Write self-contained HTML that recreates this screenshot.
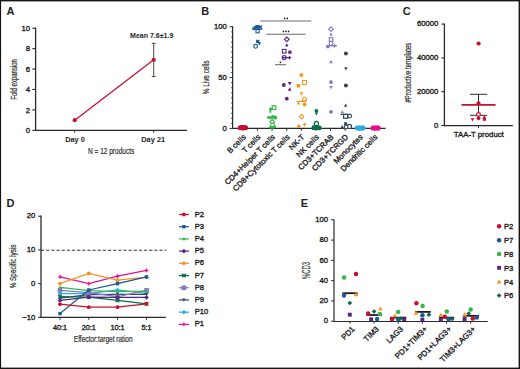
<!DOCTYPE html><html><head><meta charset="utf-8"><style>html,body{margin:0;padding:0;background:#fff;width:520px;height:369px;overflow:hidden}svg{display:block}</style></head><body>
<svg width="520" height="369" viewBox="0 0 520 369" font-family="'Liberation Sans', sans-serif">
<rect width="520" height="369" fill="#fff"/>
<text x="6.6" y="15.2" font-size="11" font-weight="bold" text-anchor="start" fill="#1e1e1e" >A</text>
<line x1="35.6" y1="27.6" x2="35.6" y2="130.8" stroke="#2a2a2a" stroke-width="1.3" />
<line x1="32.3" y1="130.3" x2="35.6" y2="130.3" stroke="#2a2a2a" stroke-width="1.1" />
<text x="30.1" y="133.05" font-size="7.7" font-weight="normal" text-anchor="end" fill="#1e1e1e"  stroke="#1e1e1e" stroke-width="0.35">0</text>
<line x1="32.3" y1="109.88" x2="35.6" y2="109.88" stroke="#2a2a2a" stroke-width="1.1" />
<text x="30.1" y="112.63" font-size="7.7" font-weight="normal" text-anchor="end" fill="#1e1e1e"  stroke="#1e1e1e" stroke-width="0.35">2</text>
<line x1="32.3" y1="89.46" x2="35.6" y2="89.46" stroke="#2a2a2a" stroke-width="1.1" />
<text x="30.1" y="92.21" font-size="7.7" font-weight="normal" text-anchor="end" fill="#1e1e1e"  stroke="#1e1e1e" stroke-width="0.35">4</text>
<line x1="32.3" y1="69.04" x2="35.6" y2="69.04" stroke="#2a2a2a" stroke-width="1.1" />
<text x="30.1" y="71.79" font-size="7.7" font-weight="normal" text-anchor="end" fill="#1e1e1e"  stroke="#1e1e1e" stroke-width="0.35">6</text>
<line x1="32.3" y1="48.62" x2="35.6" y2="48.62" stroke="#2a2a2a" stroke-width="1.1" />
<text x="30.1" y="51.37" font-size="7.7" font-weight="normal" text-anchor="end" fill="#1e1e1e"  stroke="#1e1e1e" stroke-width="0.35">8</text>
<line x1="32.3" y1="28.2" x2="35.6" y2="28.2" stroke="#2a2a2a" stroke-width="1.1" />
<text x="30.1" y="30.95" font-size="7.7" font-weight="normal" text-anchor="end" fill="#1e1e1e"  stroke="#1e1e1e" stroke-width="0.35">10</text>
<line x1="35" y1="130.3" x2="187" y2="130.3" stroke="#2a2a2a" stroke-width="1.2" />
<line x1="74.7" y1="130.2" x2="74.7" y2="132.6" stroke="#2a2a2a" stroke-width="1" />
<line x1="153.7" y1="130.2" x2="153.7" y2="132.6" stroke="#2a2a2a" stroke-width="1" />
<text x="75" y="141.8" font-size="7.4" font-weight="bold" text-anchor="middle" fill="#1e1e1e" >Day 0</text>
<text x="153.2" y="141.8" font-size="7.4" font-weight="bold" text-anchor="middle" fill="#1e1e1e" >Day 21</text>
<text x="88" y="154" font-size="9.5" font-weight="normal" text-anchor="start" fill="#2a2a2a" textLength="46.3" lengthAdjust="spacingAndGlyphs"  stroke="#2a2a2a" stroke-width="0.18">N = 12 products</text>
<text x="16.6" y="79.4" font-size="8.2" font-weight="normal" text-anchor="middle" fill="#2a2a2a" textLength="40.7" lengthAdjust="spacingAndGlyphs" transform="rotate(-90 16.6 79.4)"  stroke="#2a2a2a" stroke-width="0.18">Fold expansion</text>
<line x1="153.7" y1="43.3" x2="153.7" y2="76.6" stroke="#333" stroke-width="0.9" />
<line x1="151.8" y1="43.3" x2="155.6" y2="43.3" stroke="#333" stroke-width="0.9" />
<line x1="151.8" y1="76.6" x2="155.6" y2="76.6" stroke="#333" stroke-width="0.9" />
<line x1="74.7" y1="120.2" x2="153.7" y2="59.8" stroke="#c8102e" stroke-width="1.3" />
<circle cx="74.7" cy="120.2" r="2.1" fill="#c8102e"/>
<circle cx="153.7" cy="59.8" r="2.1" fill="#c8102e"/>
<text x="151.7" y="38.3" font-size="7" font-weight="bold" text-anchor="middle" fill="#1e1e1e" textLength="43.3" lengthAdjust="spacingAndGlyphs" >Mean 7.6±1.9</text>
<text x="201.2" y="15.2" font-size="11" font-weight="bold" text-anchor="start" fill="#1e1e1e" >B</text>
<line x1="232.6" y1="26.2" x2="232.6" y2="128.9" stroke="#2a2a2a" stroke-width="1.25" />
<line x1="229.6" y1="128.4" x2="232.5" y2="128.4" stroke="#2a2a2a" stroke-width="1" />
<line x1="231" y1="123.32" x2="232.5" y2="123.32" stroke="#2a2a2a" stroke-width="0.8" />
<line x1="231" y1="118.24" x2="232.5" y2="118.24" stroke="#2a2a2a" stroke-width="0.8" />
<line x1="231" y1="113.16" x2="232.5" y2="113.16" stroke="#2a2a2a" stroke-width="0.8" />
<line x1="231" y1="108.08" x2="232.5" y2="108.08" stroke="#2a2a2a" stroke-width="0.8" />
<line x1="231" y1="103" x2="232.5" y2="103" stroke="#2a2a2a" stroke-width="0.8" />
<line x1="231" y1="97.92" x2="232.5" y2="97.92" stroke="#2a2a2a" stroke-width="0.8" />
<line x1="231" y1="92.84" x2="232.5" y2="92.84" stroke="#2a2a2a" stroke-width="0.8" />
<line x1="231" y1="87.76" x2="232.5" y2="87.76" stroke="#2a2a2a" stroke-width="0.8" />
<line x1="231" y1="82.68" x2="232.5" y2="82.68" stroke="#2a2a2a" stroke-width="0.8" />
<line x1="229.6" y1="77.6" x2="232.5" y2="77.6" stroke="#2a2a2a" stroke-width="1" />
<line x1="231" y1="72.52" x2="232.5" y2="72.52" stroke="#2a2a2a" stroke-width="0.8" />
<line x1="231" y1="67.44" x2="232.5" y2="67.44" stroke="#2a2a2a" stroke-width="0.8" />
<line x1="231" y1="62.36" x2="232.5" y2="62.36" stroke="#2a2a2a" stroke-width="0.8" />
<line x1="231" y1="57.28" x2="232.5" y2="57.28" stroke="#2a2a2a" stroke-width="0.8" />
<line x1="231" y1="52.2" x2="232.5" y2="52.2" stroke="#2a2a2a" stroke-width="0.8" />
<line x1="231" y1="47.12" x2="232.5" y2="47.12" stroke="#2a2a2a" stroke-width="0.8" />
<line x1="231" y1="42.04" x2="232.5" y2="42.04" stroke="#2a2a2a" stroke-width="0.8" />
<line x1="231" y1="36.96" x2="232.5" y2="36.96" stroke="#2a2a2a" stroke-width="0.8" />
<line x1="231" y1="31.88" x2="232.5" y2="31.88" stroke="#2a2a2a" stroke-width="0.8" />
<line x1="229.6" y1="26.8" x2="232.5" y2="26.8" stroke="#2a2a2a" stroke-width="1" />
<text x="226.8" y="130.6" font-size="7.7" font-weight="normal" text-anchor="end" fill="#1e1e1e"  stroke="#1e1e1e" stroke-width="0.35">0</text>
<text x="226.8" y="79.8" font-size="7.7" font-weight="normal" text-anchor="end" fill="#1e1e1e"  stroke="#1e1e1e" stroke-width="0.35">50</text>
<text x="226.8" y="29" font-size="7.7" font-weight="normal" text-anchor="end" fill="#1e1e1e"  stroke="#1e1e1e" stroke-width="0.35">100</text>
<text x="208.7" y="77.4" font-size="8.6" font-weight="normal" text-anchor="middle" fill="#2a2a2a" textLength="33.6" lengthAdjust="spacingAndGlyphs" transform="rotate(-90 208.7 77.4)"  stroke="#2a2a2a" stroke-width="0.18">% Live cells</text>
<line x1="232" y1="128.4" x2="385.6" y2="128.4" stroke="#2a2a2a" stroke-width="1.2" />
<line x1="242.8" y1="128.4" x2="242.8" y2="130.8" stroke="#2a2a2a" stroke-width="1" />
<text x="246.4" y="137.6" font-size="7.8" font-weight="normal" text-anchor="end" fill="#1e1e1e" transform="rotate(-45 246.4 137.6)"  stroke="#1e1e1e" stroke-width="0.35">B cells</text>
<line x1="257.42" y1="128.4" x2="257.42" y2="130.8" stroke="#2a2a2a" stroke-width="1" />
<text x="261.02" y="137.6" font-size="7.8" font-weight="normal" text-anchor="end" fill="#1e1e1e" transform="rotate(-45 261.02 137.6)"  stroke="#1e1e1e" stroke-width="0.35">T cells</text>
<line x1="272.04" y1="128.4" x2="272.04" y2="130.8" stroke="#2a2a2a" stroke-width="1" />
<text x="275.64" y="137.6" font-size="7.8" font-weight="normal" text-anchor="end" fill="#1e1e1e" transform="rotate(-45 275.64 137.6)"  stroke="#1e1e1e" stroke-width="0.35">CD4+Helper T cells</text>
<line x1="286.66" y1="128.4" x2="286.66" y2="130.8" stroke="#2a2a2a" stroke-width="1" />
<text x="290.26" y="137.6" font-size="7.8" font-weight="normal" text-anchor="end" fill="#1e1e1e" transform="rotate(-45 290.26 137.6)"  stroke="#1e1e1e" stroke-width="0.35">CD8+Cytotoxic T cells</text>
<line x1="301.28" y1="128.4" x2="301.28" y2="130.8" stroke="#2a2a2a" stroke-width="1" />
<text x="304.88" y="137.6" font-size="7.8" font-weight="normal" text-anchor="end" fill="#1e1e1e" transform="rotate(-45 304.88 137.6)"  stroke="#1e1e1e" stroke-width="0.35">NK-T</text>
<line x1="315.9" y1="128.4" x2="315.9" y2="130.8" stroke="#2a2a2a" stroke-width="1" />
<text x="319.5" y="137.6" font-size="7.8" font-weight="normal" text-anchor="end" fill="#1e1e1e" transform="rotate(-45 319.5 137.6)"  stroke="#1e1e1e" stroke-width="0.35">NK cells</text>
<line x1="330.52" y1="128.4" x2="330.52" y2="130.8" stroke="#2a2a2a" stroke-width="1" />
<text x="334.12" y="137.6" font-size="7.8" font-weight="normal" text-anchor="end" fill="#1e1e1e" transform="rotate(-45 334.12 137.6)"  stroke="#1e1e1e" stroke-width="0.35">CD3+TCRAB</text>
<line x1="345.14" y1="128.4" x2="345.14" y2="130.8" stroke="#2a2a2a" stroke-width="1" />
<text x="348.74" y="137.6" font-size="7.8" font-weight="normal" text-anchor="end" fill="#1e1e1e" transform="rotate(-45 348.74 137.6)"  stroke="#1e1e1e" stroke-width="0.35">CD3+TCRGD</text>
<line x1="359.76" y1="128.4" x2="359.76" y2="130.8" stroke="#2a2a2a" stroke-width="1" />
<text x="363.36" y="137.6" font-size="7.8" font-weight="normal" text-anchor="end" fill="#1e1e1e" transform="rotate(-45 363.36 137.6)"  stroke="#1e1e1e" stroke-width="0.35">Monocytes</text>
<line x1="374.38" y1="128.4" x2="374.38" y2="130.8" stroke="#2a2a2a" stroke-width="1" />
<text x="377.98" y="137.6" font-size="7.8" font-weight="normal" text-anchor="end" fill="#1e1e1e" transform="rotate(-45 377.98 137.6)"  stroke="#1e1e1e" stroke-width="0.35">Dendritic cells</text>
<line x1="260.4" y1="21" x2="311.3" y2="21" stroke="#6d6d6d" stroke-width="1.1" />
<line x1="266.4" y1="34.2" x2="305.5" y2="34.2" stroke="#6d6d6d" stroke-width="1.1" />
<line x1="275" y1="64.7" x2="286" y2="64.7" stroke="#6d6d6d" stroke-width="1.1" />
<circle cx="284.7" cy="18.4" r="0.85" fill="#222"/>
<circle cx="287.3" cy="18.4" r="0.85" fill="#222"/>
<circle cx="283.4" cy="31.4" r="0.85" fill="#222"/>
<circle cx="286" cy="31.4" r="0.85" fill="#222"/>
<circle cx="288.6" cy="31.4" r="0.85" fill="#222"/>
<circle cx="280.4" cy="62.3" r="0.85" fill="#222"/>
<circle cx="240.3" cy="127.8" r="2.5" fill="#c8102e"/>
<circle cx="241.8" cy="127.8" r="2.5" fill="#c8102e"/>
<circle cx="243.3" cy="127.8" r="2.5" fill="#c8102e"/>
<circle cx="244.8" cy="127.8" r="2.5" fill="#c8102e"/>
<circle cx="245.6" cy="127.8" r="2.5" fill="#c8102e"/>
<rect x="239.8" y="125" width="4.4" height="4.4" fill="#c8102e"/>
<rect x="255.6" y="25.1" width="3.4" height="3.4" fill="#1a5a96"/>
<line x1="252.2" y1="28.2" x2="256.2" y2="28.2" stroke="#1a5a96" stroke-width="1.3" />
<line x1="254.2" y1="26.2" x2="254.2" y2="30.2" stroke="#1a5a96" stroke-width="1.3" />
<line x1="258.7" y1="25.5" x2="262.1" y2="28.9" stroke="#1a5a96" stroke-width="1.3" />
<line x1="258.7" y1="28.9" x2="262.1" y2="25.5" stroke="#1a5a96" stroke-width="1.3" />
<polygon points="258.2,25.2 260,28.44 256.4,28.44" fill="#1a5a96"/>
<circle cx="256" cy="27" r="1.6" fill="#1a5a96"/>
<polygon points="259,25 260.6,26.6 259,28.2 257.4,26.6" fill="#1a5a96"/>
<line x1="252.2" y1="29.2" x2="262" y2="29.2" stroke="#1a5a96" stroke-width="1.4" />
<rect x="256" y="29.6" width="3.2" height="3.2" fill="#fff" stroke="#1a5a96" stroke-width="1.1"/>
<rect x="256.1" y="39.8" width="3.2" height="3.2" fill="#1a5a96"/>
<polygon points="259.3,45.6 261.1,42.36 257.5,42.36" fill="#1a5a96"/>
<circle cx="255.6" cy="46.3" r="1.9" fill="#fff" stroke="#1a5a96" stroke-width="1.1"/>
<rect x="272.2" y="105.8" width="3.6" height="3.6" fill="#fff" stroke="#39b54a" stroke-width="1.2"/>
<circle cx="270.6" cy="109.2" r="1.6" fill="#39b54a"/>
<polygon points="270.4,109.9 271.9,112.6 268.9,112.6" fill="#39b54a"/>
<line x1="267.3" y1="117.6" x2="277" y2="117.6" stroke="#39b54a" stroke-width="1.6" />
<rect x="273.2" y="115.8" width="3.6" height="3.6" fill="#39b54a"/>
<polygon points="270.6,119.8 272.5,116.38 268.7,116.38" fill="#39b54a"/>
<circle cx="272.6" cy="116.9" r="1.8" fill="#39b54a"/>
<rect x="267.4" y="116.2" width="2.4" height="2.4" fill="#39b54a"/>
<polygon points="272.2,119.6 274.4,121.8 272.2,124 270,121.8" fill="#fff" stroke="#39b54a" stroke-width="1.2"/>
<circle cx="272.6" cy="125.2" r="1.9" fill="#fff" stroke="#39b54a" stroke-width="1.1"/>
<polygon points="270.2,125.1 271.9,128.16 268.5,128.16" fill="#39b54a"/>
<circle cx="274.6" cy="126.8" r="1.6" fill="#39b54a"/>
<rect x="270.7" y="126.1" width="2.6" height="2.6" fill="#39b54a"/>
<polygon points="286.8,37 289.1,39.3 286.8,41.6 284.5,39.3" fill="#fff" stroke="#56267f" stroke-width="1.1"/>
<polygon points="286.8,43.8 288.4,45.4 286.8,47 285.2,45.4" fill="#56267f"/>
<rect x="282.4" y="49.4" width="3.6" height="3.6" fill="#fff" stroke="#56267f" stroke-width="1.1"/>
<rect x="288.3" y="50.6" width="3.2" height="3.2" fill="#56267f"/>
<circle cx="284.2" cy="57.6" r="2" fill="#fff" stroke="#56267f" stroke-width="1.1"/>
<line x1="282" y1="57.6" x2="291" y2="57.6" stroke="#56267f" stroke-width="1.2" />
<line x1="287.8" y1="57.6" x2="291.2" y2="57.6" stroke="#56267f" stroke-width="1.2" />
<line x1="289.5" y1="55.9" x2="289.5" y2="59.3" stroke="#56267f" stroke-width="1.2" />
<circle cx="283.8" cy="85" r="1.9" fill="#56267f"/>
<polygon points="289.7,85.5 291.6,82.08 287.8,82.08" fill="#56267f"/>
<polygon points="289.7,87.3 291.6,90.72 287.8,90.72" fill="#56267f"/>
<circle cx="286.8" cy="98.7" r="1.9" fill="#56267f"/>
<rect x="299.7" y="73.4" width="3.4" height="3.4" fill="#f7941d"/>
<rect x="302.5" y="80.5" width="4" height="4" fill="#fff" stroke="#f7941d" stroke-width="1.1"/>
<circle cx="298.4" cy="85.7" r="2" fill="#f7941d"/>
<polygon points="301.4,95.6 303.2,92.36 299.6,92.36" fill="#f7941d"/>
<circle cx="304.5" cy="99.3" r="2" fill="#fff" stroke="#f7941d" stroke-width="1.1"/>
<line x1="296.6" y1="101.4" x2="306.3" y2="101.4" stroke="#f7941d" stroke-width="1.2" />
<polygon points="298.4,101.2 300.2,104.44 296.6,104.44" fill="#f7941d"/>
<circle cx="304.5" cy="104.5" r="1.9" fill="#f7941d"/>
<polygon points="301.5,114.5 303.7,116.7 301.5,118.9 299.3,116.7" fill="#fff" stroke="#f7941d" stroke-width="1.1"/>
<circle cx="298.8" cy="126.2" r="1.8" fill="#f7941d"/>
<line x1="302.7" y1="124.5" x2="306.3" y2="124.5" stroke="#f7941d" stroke-width="1.1" />
<line x1="304.5" y1="122.7" x2="304.5" y2="126.3" stroke="#f7941d" stroke-width="1.1" />
<circle cx="316.4" cy="110.8" r="1.9" fill="#0c6b4c"/>
<polygon points="316.4,115.5 318.1,112.44 314.7,112.44" fill="#0c6b4c"/>
<circle cx="316.4" cy="123.5" r="2.1" fill="#fff" stroke="#0c6b4c" stroke-width="1.2"/>
<circle cx="313.8" cy="127.9" r="2.4" fill="#0c6b4c"/>
<circle cx="315.4" cy="127.9" r="2.4" fill="#0c6b4c"/>
<circle cx="317" cy="127.9" r="2.4" fill="#0c6b4c"/>
<circle cx="318.6" cy="127.9" r="2.4" fill="#0c6b4c"/>
<circle cx="319.3" cy="127.9" r="2.4" fill="#0c6b4c"/>
<rect x="312.1" y="125.5" width="4.2" height="4.2" fill="#0c6b4c"/>
<polygon points="331,26.9 333.3,29.2 331,31.5 328.7,29.2" fill="#fff" stroke="#8376c6" stroke-width="1.1"/>
<polygon points="331,33 332.6,34.6 331,36.2 329.4,34.6" fill="#8376c6"/>
<rect x="329.2" y="37.7" width="3.6" height="3.6" fill="#fff" stroke="#8376c6" stroke-width="1.1"/>
<circle cx="331" cy="43.4" r="1.9" fill="#fff" stroke="#8376c6" stroke-width="1.1"/>
<rect x="326.2" y="45" width="3.2" height="3.2" fill="#8376c6"/>
<line x1="332.8" y1="45.8" x2="336.2" y2="45.8" stroke="#8376c6" stroke-width="1.2" />
<line x1="334.5" y1="44.1" x2="334.5" y2="47.5" stroke="#8376c6" stroke-width="1.2" />
<line x1="326" y1="45.8" x2="337" y2="45.8" stroke="#8376c6" stroke-width="1.2" />
<polygon points="331,59.9 332.8,63.14 329.2,63.14" fill="#8376c6"/>
<circle cx="331" cy="82.1" r="1.9" fill="#8376c6"/>
<polygon points="331,89.3 332.8,86.06 329.2,86.06" fill="#8376c6"/>
<circle cx="331" cy="111.8" r="1.9" fill="#8376c6"/>
<circle cx="345.9" cy="53.6" r="2" fill="#34475c"/>
<polygon points="345.9,70.4 347.7,67.16 344.1,67.16" fill="#34475c"/>
<circle cx="345.9" cy="85.6" r="2" fill="#34475c"/>
<polygon points="345.6,103.6 347.3,106.66 343.9,106.66" fill="#34475c"/>
<polygon points="342.3,110 344.3,113.6 340.3,113.6" fill="#8a96a6"/>
<line x1="340.5" y1="114.4" x2="351" y2="114.4" stroke="#34475c" stroke-width="1.1" />
<rect x="343.6" y="114.3" width="4" height="4" fill="#fff" stroke="#34475c" stroke-width="1.2"/>
<circle cx="349.7" cy="116.1" r="1.9" fill="#fff" stroke="#34475c" stroke-width="1.1"/>
<rect x="344.1" y="122.2" width="3" height="3" fill="#34475c"/>
<circle cx="349.4" cy="126.4" r="2.1" fill="#fff" stroke="#34475c" stroke-width="1.2"/>
<polygon points="342.3,125 344.1,128.24 340.5,128.24" fill="#34475c"/>
<circle cx="346.2" cy="126.9" r="1.8" fill="#fff" stroke="#34475c" stroke-width="1.1"/>
<circle cx="357.3" cy="127.9" r="2.5" fill="#29abe2"/>
<circle cx="358.8" cy="127.9" r="2.5" fill="#29abe2"/>
<circle cx="360.3" cy="127.9" r="2.5" fill="#29abe2"/>
<circle cx="361.8" cy="127.9" r="2.5" fill="#29abe2"/>
<circle cx="362.8" cy="127.9" r="2.5" fill="#29abe2"/>
<polygon points="363,125.2 366,127.9 363,130.6" fill="#29abe2"/>
<circle cx="373" cy="128" r="2.5" fill="#ec0c8c"/>
<circle cx="374.5" cy="128" r="2.5" fill="#ec0c8c"/>
<circle cx="376" cy="128" r="2.5" fill="#ec0c8c"/>
<circle cx="377.5" cy="128" r="2.5" fill="#ec0c8c"/>
<circle cx="378.1" cy="128" r="2.5" fill="#ec0c8c"/>
<polygon points="378.2,125.4 380.8,128 378.2,130.6" fill="#ec0c8c"/>
<text x="402.8" y="15.2" font-size="11" font-weight="bold" text-anchor="start" fill="#1e1e1e" >C</text>
<line x1="444.4" y1="23.5" x2="444.4" y2="126.1" stroke="#2a2a2a" stroke-width="1.3" />
<line x1="441.4" y1="125.5" x2="444.4" y2="125.5" stroke="#2a2a2a" stroke-width="1.1" />
<text x="438.3" y="127.7" font-size="7.7" font-weight="normal" text-anchor="end" fill="#1e1e1e"  stroke="#1e1e1e" stroke-width="0.35">0</text>
<line x1="441.4" y1="91.7" x2="444.4" y2="91.7" stroke="#2a2a2a" stroke-width="1.1" />
<text x="438.3" y="93.9" font-size="7.7" font-weight="normal" text-anchor="end" fill="#1e1e1e"  stroke="#1e1e1e" stroke-width="0.35">20000</text>
<line x1="441.4" y1="57.9" x2="444.4" y2="57.9" stroke="#2a2a2a" stroke-width="1.1" />
<text x="438.3" y="60.1" font-size="7.7" font-weight="normal" text-anchor="end" fill="#1e1e1e"  stroke="#1e1e1e" stroke-width="0.35">40000</text>
<line x1="441.4" y1="24.1" x2="444.4" y2="24.1" stroke="#2a2a2a" stroke-width="1.1" />
<text x="438.3" y="26.3" font-size="7.7" font-weight="normal" text-anchor="end" fill="#1e1e1e"  stroke="#1e1e1e" stroke-width="0.35">60000</text>
<text x="411.1" y="72.6" font-size="8.2" font-weight="normal" text-anchor="middle" fill="#2a2a2a" textLength="59.8" lengthAdjust="spacingAndGlyphs" transform="rotate(-90 411.1 72.6)"  stroke="#2a2a2a" stroke-width="0.18">#Productive templates</text>
<line x1="443.8" y1="125.5" x2="512.8" y2="125.5" stroke="#2a2a2a" stroke-width="1.25" />
<line x1="478.5" y1="125.5" x2="478.5" y2="127.9" stroke="#2a2a2a" stroke-width="1" />
<text x="478.8" y="137.4" font-size="7.8" font-weight="normal" text-anchor="middle" fill="#1e1e1e" textLength="50" lengthAdjust="spacingAndGlyphs"  stroke="#1e1e1e" stroke-width="0.35">TAA-T product</text>
<line x1="478.5" y1="94.3" x2="478.5" y2="115.3" stroke="#2a2a2a" stroke-width="1" />
<line x1="470" y1="94.3" x2="487.2" y2="94.3" stroke="#2a2a2a" stroke-width="1" />
<line x1="470" y1="115.3" x2="487.2" y2="115.3" stroke="#2a2a2a" stroke-width="1" />
<line x1="461.5" y1="104.9" x2="495.6" y2="104.9" stroke="#c8102e" stroke-width="1.6" />
<circle cx="478.6" cy="43.5" r="2.1" fill="#c8102e"/>
<circle cx="478.5" cy="103.3" r="2" fill="#c8102e"/>
<circle cx="478.5" cy="114.5" r="1.9" fill="#fff" stroke="#c8102e" stroke-width="1.1"/>
<circle cx="478.5" cy="118.2" r="1.9" fill="#c8102e"/>
<polygon points="472.5,121.4 474.3,118.16 470.7,118.16" fill="#c8102e"/>
<polygon points="484.4,115.2 486.2,118.44 482.6,118.44" fill="#c8102e"/>
<rect x="482.8" y="117.6" width="3.2" height="3.2" fill="#c8102e"/>
<text x="6.6" y="206.5" font-size="11" font-weight="bold" text-anchor="start" fill="#1e1e1e" >D</text>
<line x1="41" y1="215.6" x2="41" y2="317.9" stroke="#2a2a2a" stroke-width="1.3" />
<line x1="38.2" y1="317.3" x2="41" y2="317.3" stroke="#2a2a2a" stroke-width="1.1" />
<text x="35.4" y="319.5" font-size="7.7" font-weight="normal" text-anchor="end" fill="#1e1e1e"  stroke="#1e1e1e" stroke-width="0.35">−10</text>
<line x1="38.2" y1="283.6" x2="41" y2="283.6" stroke="#2a2a2a" stroke-width="1.1" />
<text x="35.4" y="285.8" font-size="7.7" font-weight="normal" text-anchor="end" fill="#1e1e1e"  stroke="#1e1e1e" stroke-width="0.35">0</text>
<line x1="38.2" y1="249.9" x2="41" y2="249.9" stroke="#2a2a2a" stroke-width="1.1" />
<text x="35.4" y="252.1" font-size="7.7" font-weight="normal" text-anchor="end" fill="#1e1e1e"  stroke="#1e1e1e" stroke-width="0.35">10</text>
<line x1="38.2" y1="216.2" x2="41" y2="216.2" stroke="#2a2a2a" stroke-width="1.1" />
<text x="35.4" y="218.4" font-size="7.7" font-weight="normal" text-anchor="end" fill="#1e1e1e"  stroke="#1e1e1e" stroke-width="0.35">20</text>
<text x="16.3" y="266.4" font-size="8.2" font-weight="normal" text-anchor="middle" fill="#2a2a2a" textLength="43.9" lengthAdjust="spacingAndGlyphs" transform="rotate(-90 16.3 266.4)"  stroke="#2a2a2a" stroke-width="0.18">% Specific lysis</text>
<line x1="40.4" y1="317.4" x2="165.8" y2="317.4" stroke="#2a2a2a" stroke-width="1.25" />
<line x1="60" y1="317.4" x2="60" y2="319.8" stroke="#2a2a2a" stroke-width="1" />
<text x="60" y="329.6" font-size="7.3" font-weight="normal" text-anchor="middle" fill="#1e1e1e"  stroke="#1e1e1e" stroke-width="0.35">40:1</text>
<line x1="88.8" y1="317.4" x2="88.8" y2="319.8" stroke="#2a2a2a" stroke-width="1" />
<text x="88.8" y="329.6" font-size="7.3" font-weight="normal" text-anchor="middle" fill="#1e1e1e"  stroke="#1e1e1e" stroke-width="0.35">20:1</text>
<line x1="117.5" y1="317.4" x2="117.5" y2="319.8" stroke="#2a2a2a" stroke-width="1" />
<text x="117.5" y="329.6" font-size="7.3" font-weight="normal" text-anchor="middle" fill="#1e1e1e"  stroke="#1e1e1e" stroke-width="0.35">10:1</text>
<line x1="146.5" y1="317.4" x2="146.5" y2="319.8" stroke="#2a2a2a" stroke-width="1" />
<text x="146.5" y="329.6" font-size="7.3" font-weight="normal" text-anchor="middle" fill="#1e1e1e"  stroke="#1e1e1e" stroke-width="0.35">5:1</text>
<text x="73.8" y="341.9" font-size="8.4" font-weight="normal" text-anchor="start" fill="#2a2a2a" textLength="58.8" lengthAdjust="spacingAndGlyphs"  stroke="#2a2a2a" stroke-width="0.18">Effector:target ration</text>
<line x1="41" y1="250.3" x2="166.2" y2="250.3" stroke="#333" stroke-width="1.1" stroke-dasharray="3.2 1.95"/>
<polyline points="60,276.86 88.8,283.6 117.5,276.19 146.5,270.46" fill="none" stroke="#ec0c8c" stroke-width="1.25"/>
<line x1="58.2" y1="276.86" x2="61.8" y2="276.86" stroke="#ec0c8c" stroke-width="1.3" />
<line x1="60" y1="275.06" x2="60" y2="278.66" stroke="#ec0c8c" stroke-width="1.3" />
<line x1="87" y1="283.6" x2="90.6" y2="283.6" stroke="#ec0c8c" stroke-width="1.3" />
<line x1="88.8" y1="281.8" x2="88.8" y2="285.4" stroke="#ec0c8c" stroke-width="1.3" />
<line x1="115.7" y1="276.19" x2="119.3" y2="276.19" stroke="#ec0c8c" stroke-width="1.3" />
<line x1="117.5" y1="274.39" x2="117.5" y2="277.99" stroke="#ec0c8c" stroke-width="1.3" />
<line x1="144.7" y1="270.46" x2="148.3" y2="270.46" stroke="#ec0c8c" stroke-width="1.3" />
<line x1="146.5" y1="268.66" x2="146.5" y2="272.26" stroke="#ec0c8c" stroke-width="1.3" />
<polyline points="60,293.71 88.8,293.71 117.5,290 146.5,293.37" fill="none" stroke="#29abe2" stroke-width="1.25"/>
<polygon points="60,291.41 62.3,293.71 60,296.01 57.7,293.71" fill="#29abe2"/>
<polygon points="88.8,291.41 91.1,293.71 88.8,296.01 86.5,293.71" fill="#29abe2"/>
<polygon points="117.5,287.7 119.8,290 117.5,292.3 115.2,290" fill="#29abe2"/>
<polygon points="146.5,291.07 148.8,293.37 146.5,295.67 144.2,293.37" fill="#29abe2"/>
<polyline points="60,298.09 88.8,294.72 117.5,294.38 146.5,294.38" fill="none" stroke="#34475c" stroke-width="1.25"/>
<polygon points="60,299.79 61.7,296.73 58.3,296.73" fill="#34475c"/>
<polygon points="88.8,296.42 90.5,293.36 87.1,293.36" fill="#34475c"/>
<polygon points="117.5,296.08 119.2,293.02 115.8,293.02" fill="#34475c"/>
<polygon points="146.5,296.08 148.2,293.02 144.8,293.02" fill="#34475c"/>
<polyline points="60,290.34 88.8,292.7 117.5,296.74 146.5,290.34" fill="none" stroke="#8376c6" stroke-width="1.25"/>
<rect x="57.7" y="288.04" width="4.6" height="4.6" fill="#8376c6"/>
<rect x="86.5" y="290.4" width="4.6" height="4.6" fill="#8376c6"/>
<rect x="115.2" y="294.44" width="4.6" height="4.6" fill="#8376c6"/>
<rect x="144.2" y="288.04" width="4.6" height="4.6" fill="#8376c6"/>
<polyline points="60,296.74 88.8,297.08 117.5,300.45 146.5,303.82" fill="none" stroke="#0c6b4c" stroke-width="1.25"/>
<line x1="58.2" y1="294.94" x2="61.8" y2="298.54" stroke="#0c6b4c" stroke-width="1.4" />
<line x1="58.2" y1="298.54" x2="61.8" y2="294.94" stroke="#0c6b4c" stroke-width="1.4" />
<line x1="87" y1="295.28" x2="90.6" y2="298.88" stroke="#0c6b4c" stroke-width="1.4" />
<line x1="87" y1="298.88" x2="90.6" y2="295.28" stroke="#0c6b4c" stroke-width="1.4" />
<line x1="115.7" y1="298.65" x2="119.3" y2="302.25" stroke="#0c6b4c" stroke-width="1.4" />
<line x1="115.7" y1="302.25" x2="119.3" y2="298.65" stroke="#0c6b4c" stroke-width="1.4" />
<line x1="144.7" y1="302.02" x2="148.3" y2="305.62" stroke="#0c6b4c" stroke-width="1.4" />
<line x1="144.7" y1="305.62" x2="148.3" y2="302.02" stroke="#0c6b4c" stroke-width="1.4" />
<polyline points="60,283.6 88.8,273.49 117.5,280.23 146.5,277.2" fill="none" stroke="#f7941d" stroke-width="1.25"/>
<circle cx="60" cy="283.6" r="1.9" fill="#f7941d"/>
<circle cx="88.8" cy="273.49" r="1.9" fill="#f7941d"/>
<circle cx="117.5" cy="280.23" r="1.9" fill="#f7941d"/>
<circle cx="146.5" cy="277.2" r="1.9" fill="#f7941d"/>
<polyline points="60,300.45 88.8,297.08 117.5,297.42 146.5,297.42" fill="none" stroke="#56267f" stroke-width="1.25"/>
<polygon points="60,298.15 62.3,300.45 60,302.75 57.7,300.45" fill="#56267f"/>
<polygon points="88.8,294.78 91.1,297.08 88.8,299.38 86.5,297.08" fill="#56267f"/>
<polygon points="117.5,295.12 119.8,297.42 117.5,299.72 115.2,297.42" fill="#56267f"/>
<polygon points="146.5,295.12 148.8,297.42 146.5,299.72 144.2,297.42" fill="#56267f"/>
<polyline points="60,287.31 88.8,290.68 117.5,291.69 146.5,291.01" fill="none" stroke="#39b54a" stroke-width="1.25"/>
<polygon points="60,285.51 61.8,288.75 58.2,288.75" fill="#39b54a"/>
<polygon points="88.8,288.88 90.6,292.12 87,292.12" fill="#39b54a"/>
<polygon points="117.5,289.89 119.3,293.13 115.7,293.13" fill="#39b54a"/>
<polygon points="146.5,289.21 148.3,292.45 144.7,292.45" fill="#39b54a"/>
<polyline points="60,313.59 88.8,290 117.5,283.6 146.5,276.86" fill="none" stroke="#1a5a96" stroke-width="1.25"/>
<rect x="58.3" y="311.89" width="3.4" height="3.4" fill="#1a5a96"/>
<rect x="87.1" y="288.3" width="3.4" height="3.4" fill="#1a5a96"/>
<rect x="115.8" y="281.9" width="3.4" height="3.4" fill="#1a5a96"/>
<rect x="144.8" y="275.16" width="3.4" height="3.4" fill="#1a5a96"/>
<polyline points="60,304.16 88.8,307.19 117.5,307.19 146.5,303.82" fill="none" stroke="#c8102e" stroke-width="1.25"/>
<circle cx="60" cy="304.16" r="1.9" fill="#c8102e"/>
<circle cx="88.8" cy="307.19" r="1.9" fill="#c8102e"/>
<circle cx="117.5" cy="307.19" r="1.9" fill="#c8102e"/>
<circle cx="146.5" cy="303.82" r="1.9" fill="#c8102e"/>
<line x1="178.9" y1="214.5" x2="189" y2="214.5" stroke="#c8102e" stroke-width="1.2" />
<circle cx="183.9" cy="214.5" r="1.9" fill="#c8102e"/>
<text x="194.8" y="216.6" font-size="7.6" font-weight="normal" text-anchor="start" fill="#1e1e1e"  stroke="#1e1e1e" stroke-width="0.35">P2</text>
<line x1="178.9" y1="226.71" x2="189" y2="226.71" stroke="#1a5a96" stroke-width="1.2" />
<rect x="182.2" y="225.01" width="3.4" height="3.4" fill="#1a5a96"/>
<text x="194.8" y="228.81" font-size="7.6" font-weight="normal" text-anchor="start" fill="#1e1e1e"  stroke="#1e1e1e" stroke-width="0.35">P3</text>
<line x1="178.9" y1="238.92" x2="189" y2="238.92" stroke="#39b54a" stroke-width="1.2" />
<polygon points="183.9,237.12 185.7,240.36 182.1,240.36" fill="#39b54a"/>
<text x="194.8" y="241.02" font-size="7.6" font-weight="normal" text-anchor="start" fill="#1e1e1e"  stroke="#1e1e1e" stroke-width="0.35">P4</text>
<line x1="178.9" y1="251.13" x2="189" y2="251.13" stroke="#56267f" stroke-width="1.2" />
<polygon points="183.9,248.83 186.2,251.13 183.9,253.43 181.6,251.13" fill="#56267f"/>
<text x="194.8" y="253.23" font-size="7.6" font-weight="normal" text-anchor="start" fill="#1e1e1e"  stroke="#1e1e1e" stroke-width="0.35">P5</text>
<line x1="178.9" y1="263.34" x2="189" y2="263.34" stroke="#f7941d" stroke-width="1.2" />
<circle cx="183.9" cy="263.34" r="1.9" fill="#f7941d"/>
<text x="194.8" y="265.44" font-size="7.6" font-weight="normal" text-anchor="start" fill="#1e1e1e"  stroke="#1e1e1e" stroke-width="0.35">P6</text>
<line x1="178.9" y1="275.55" x2="189" y2="275.55" stroke="#0c6b4c" stroke-width="1.2" />
<line x1="182.1" y1="273.75" x2="185.7" y2="277.35" stroke="#0c6b4c" stroke-width="1.4" />
<line x1="182.1" y1="277.35" x2="185.7" y2="273.75" stroke="#0c6b4c" stroke-width="1.4" />
<text x="194.8" y="277.65" font-size="7.6" font-weight="normal" text-anchor="start" fill="#1e1e1e"  stroke="#1e1e1e" stroke-width="0.35">P7</text>
<line x1="178.9" y1="287.76" x2="189" y2="287.76" stroke="#8376c6" stroke-width="1.2" />
<rect x="181.6" y="285.46" width="4.6" height="4.6" fill="#8376c6"/>
<text x="194.8" y="289.86" font-size="7.6" font-weight="normal" text-anchor="start" fill="#1e1e1e"  stroke="#1e1e1e" stroke-width="0.35">P8</text>
<line x1="178.9" y1="299.97" x2="189" y2="299.97" stroke="#34475c" stroke-width="1.2" />
<polygon points="183.9,301.67 185.6,298.61 182.2,298.61" fill="#34475c"/>
<text x="194.8" y="302.07" font-size="7.6" font-weight="normal" text-anchor="start" fill="#1e1e1e"  stroke="#1e1e1e" stroke-width="0.35">P9</text>
<line x1="178.9" y1="312.18" x2="189" y2="312.18" stroke="#29abe2" stroke-width="1.2" />
<polygon points="183.9,309.88 186.2,312.18 183.9,314.48 181.6,312.18" fill="#29abe2"/>
<text x="194.8" y="314.28" font-size="7.6" font-weight="normal" text-anchor="start" fill="#1e1e1e"  stroke="#1e1e1e" stroke-width="0.35">P10</text>
<line x1="178.9" y1="324.39" x2="189" y2="324.39" stroke="#ec0c8c" stroke-width="1.2" />
<line x1="182.1" y1="324.39" x2="185.7" y2="324.39" stroke="#ec0c8c" stroke-width="1.3" />
<line x1="183.9" y1="322.59" x2="183.9" y2="326.19" stroke="#ec0c8c" stroke-width="1.3" />
<text x="194.8" y="326.49" font-size="7.6" font-weight="normal" text-anchor="start" fill="#1e1e1e"  stroke="#1e1e1e" stroke-width="0.35">P1</text>
<text x="300.8" y="206.5" font-size="11" font-weight="bold" text-anchor="start" fill="#1e1e1e" >E</text>
<line x1="334" y1="219.2" x2="334" y2="321.8" stroke="#2a2a2a" stroke-width="1.2" />
<line x1="331.1" y1="321.2" x2="334" y2="321.2" stroke="#2a2a2a" stroke-width="1" />
<text x="328" y="323.4" font-size="7.7" font-weight="normal" text-anchor="end" fill="#1e1e1e"  stroke="#1e1e1e" stroke-width="0.35">0</text>
<line x1="331.1" y1="300.92" x2="334" y2="300.92" stroke="#2a2a2a" stroke-width="1" />
<text x="328" y="303.12" font-size="7.7" font-weight="normal" text-anchor="end" fill="#1e1e1e"  stroke="#1e1e1e" stroke-width="0.35">20</text>
<line x1="331.1" y1="280.64" x2="334" y2="280.64" stroke="#2a2a2a" stroke-width="1" />
<text x="328" y="282.84" font-size="7.7" font-weight="normal" text-anchor="end" fill="#1e1e1e"  stroke="#1e1e1e" stroke-width="0.35">40</text>
<line x1="331.1" y1="260.36" x2="334" y2="260.36" stroke="#2a2a2a" stroke-width="1" />
<text x="328" y="262.56" font-size="7.7" font-weight="normal" text-anchor="end" fill="#1e1e1e"  stroke="#1e1e1e" stroke-width="0.35">60</text>
<line x1="331.1" y1="240.08" x2="334" y2="240.08" stroke="#2a2a2a" stroke-width="1" />
<text x="328" y="242.28" font-size="7.7" font-weight="normal" text-anchor="end" fill="#1e1e1e"  stroke="#1e1e1e" stroke-width="0.35">80</text>
<line x1="331.1" y1="219.8" x2="334" y2="219.8" stroke="#2a2a2a" stroke-width="1" />
<text x="328" y="222" font-size="7.7" font-weight="normal" text-anchor="end" fill="#1e1e1e"  stroke="#1e1e1e" stroke-width="0.35">100</text>
<text x="310.2" y="270.45" font-size="10.2" font-weight="normal" text-anchor="middle" fill="#2a2a2a" textLength="17.1" lengthAdjust="spacingAndGlyphs" transform="rotate(-90 310.2 270.45)"  stroke="#2a2a2a" stroke-width="0.18">%CD3</text>
<line x1="333.4" y1="321.5" x2="487.7" y2="321.5" stroke="#2a2a2a" stroke-width="1.2" />
<line x1="349.8" y1="321.2" x2="349.8" y2="323.6" stroke="#2a2a2a" stroke-width="1" />
<text x="355.2" y="329.6" font-size="7.8" font-weight="normal" text-anchor="end" fill="#1e1e1e" transform="rotate(-45 355.2 329.6)"  stroke="#1e1e1e" stroke-width="0.35">PD1</text>
<line x1="373.98" y1="321.2" x2="373.98" y2="323.6" stroke="#2a2a2a" stroke-width="1" />
<text x="379.38" y="329.6" font-size="7.8" font-weight="normal" text-anchor="end" fill="#1e1e1e" transform="rotate(-45 379.38 329.6)"  stroke="#1e1e1e" stroke-width="0.35">TIM3</text>
<line x1="398.16" y1="321.2" x2="398.16" y2="323.6" stroke="#2a2a2a" stroke-width="1" />
<text x="403.56" y="329.6" font-size="7.8" font-weight="normal" text-anchor="end" fill="#1e1e1e" transform="rotate(-45 403.56 329.6)"  stroke="#1e1e1e" stroke-width="0.35">LAG3</text>
<line x1="422.34" y1="321.2" x2="422.34" y2="323.6" stroke="#2a2a2a" stroke-width="1" />
<text x="427.74" y="329.6" font-size="7.8" font-weight="normal" text-anchor="end" fill="#1e1e1e" transform="rotate(-45 427.74 329.6)"  stroke="#1e1e1e" stroke-width="0.35">PD1+TIM3+</text>
<line x1="446.52" y1="321.2" x2="446.52" y2="323.6" stroke="#2a2a2a" stroke-width="1" />
<text x="451.92" y="329.6" font-size="7.8" font-weight="normal" text-anchor="end" fill="#1e1e1e" transform="rotate(-45 451.92 329.6)"  stroke="#1e1e1e" stroke-width="0.35">PD1+LAG3+</text>
<line x1="470.7" y1="321.2" x2="470.7" y2="323.6" stroke="#2a2a2a" stroke-width="1" />
<text x="476.1" y="329.6" font-size="7.8" font-weight="normal" text-anchor="end" fill="#1e1e1e" transform="rotate(-45 476.1 329.6)"  stroke="#1e1e1e" stroke-width="0.35">TIM3+LAG3+</text>
<line x1="342.4" y1="293.2" x2="357.7" y2="293.2" stroke="#111" stroke-width="1.7" />
<line x1="366.5" y1="315" x2="382" y2="315" stroke="#111" stroke-width="1.7" />
<line x1="390" y1="317.6" x2="406.3" y2="317.6" stroke="#111" stroke-width="1.7" />
<line x1="415" y1="311.9" x2="430.7" y2="311.9" stroke="#111" stroke-width="1.7" />
<line x1="439.1" y1="317.6" x2="454.1" y2="317.6" stroke="#111" stroke-width="1.7" />
<line x1="463" y1="315.8" x2="479" y2="315.8" stroke="#111" stroke-width="1.7" />
<circle cx="344.1" cy="277.5" r="2.25" fill="#39b54a"/>
<circle cx="356" cy="274.1" r="2.25" fill="#c8102e"/>
<circle cx="344" cy="295.4" r="2.25" fill="#1a5a96"/>
<polygon points="356.1,292.1 358.4,296.24 353.8,296.24" fill="#f7941d"/>
<polygon points="349.8,300.65 352.15,303 349.8,305.35 347.45,303" fill="#0c6b4c"/>
<rect x="347.85" y="312.75" width="3.9" height="3.9" fill="#56267f"/>
<circle cx="368.1" cy="313.6" r="2.25" fill="#c8102e"/>
<polygon points="374.1,309.15 376.45,311.5 374.1,313.85 371.75,311.5" fill="#0c6b4c"/>
<circle cx="379.8" cy="313.9" r="2.25" fill="#39b54a"/>
<polygon points="380.3,306.4 382.6,310.54 378,310.54" fill="#f7941d"/>
<rect x="369.15" y="317.35" width="3.9" height="3.9" fill="#56267f"/>
<circle cx="377.1" cy="319" r="2.25" fill="#1a5a96"/>
<circle cx="398.2" cy="312" r="2.25" fill="#39b54a"/>
<polygon points="395,313.2 397.3,317.34 392.7,317.34" fill="#f7941d"/>
<circle cx="392" cy="319.3" r="2.25" fill="#c8102e"/>
<circle cx="398.2" cy="319.3" r="2.25" fill="#1a5a96"/>
<polygon points="400.7,316.15 403.05,318.5 400.7,320.85 398.35,318.5" fill="#0c6b4c"/>
<rect x="402.25" y="317.35" width="3.9" height="3.9" fill="#56267f"/>
<circle cx="416.4" cy="303.3" r="2.25" fill="#c8102e"/>
<circle cx="422.6" cy="305.9" r="2.25" fill="#39b54a"/>
<polygon points="416,310.5 418.3,314.64 413.7,314.64" fill="#f7941d"/>
<circle cx="422.4" cy="315.2" r="2.25" fill="#1a5a96"/>
<polygon points="428.9,312.35 431.25,314.7 428.9,317.05 426.55,314.7" fill="#0c6b4c"/>
<rect x="420.45" y="317.85" width="3.9" height="3.9" fill="#56267f"/>
<circle cx="446.8" cy="311.6" r="2.25" fill="#39b54a"/>
<polygon points="440.8,312.6 443.1,316.74 438.5,316.74" fill="#f7941d"/>
<circle cx="444.8" cy="316.8" r="2.25" fill="#c8102e"/>
<circle cx="448.6" cy="319.3" r="2.25" fill="#1a5a96"/>
<polygon points="452.2,316.65 454.55,319 452.2,321.35 449.85,319" fill="#0c6b4c"/>
<rect x="438.85" y="317.65" width="3.9" height="3.9" fill="#56267f"/>
<circle cx="470.7" cy="309.5" r="2.25" fill="#39b54a"/>
<polygon points="468.7,311.25 471.05,313.6 468.7,315.95 466.35,313.6" fill="#0c6b4c"/>
<polygon points="464.6,312.1 466.9,316.24 462.3,316.24" fill="#f7941d"/>
<rect x="462.65" y="317.05" width="3.9" height="3.9" fill="#56267f"/>
<circle cx="472.8" cy="318.5" r="2.25" fill="#c8102e"/>
<circle cx="476.8" cy="317.6" r="2.25" fill="#1a5a96"/>
<circle cx="499.1" cy="226.3" r="2.25" fill="#c8102e"/>
<text x="503.9" y="229.2" font-size="7.6" font-weight="normal" text-anchor="start" fill="#1e1e1e"  stroke="#1e1e1e" stroke-width="0.35">P2</text>
<circle cx="499.1" cy="240.14" r="2.25" fill="#1a5a96"/>
<text x="503.9" y="243.04" font-size="7.6" font-weight="normal" text-anchor="start" fill="#1e1e1e"  stroke="#1e1e1e" stroke-width="0.35">P7</text>
<circle cx="499.1" cy="253.98" r="2.25" fill="#39b54a"/>
<text x="503.9" y="256.88" font-size="7.6" font-weight="normal" text-anchor="start" fill="#1e1e1e"  stroke="#1e1e1e" stroke-width="0.35">P8</text>
<rect x="497.15" y="265.87" width="3.9" height="3.9" fill="#56267f"/>
<text x="503.9" y="270.72" font-size="7.6" font-weight="normal" text-anchor="start" fill="#1e1e1e"  stroke="#1e1e1e" stroke-width="0.35">P3</text>
<polygon points="499.1,279.36 501.4,283.5 496.8,283.5" fill="#f7941d"/>
<text x="503.9" y="284.56" font-size="7.6" font-weight="normal" text-anchor="start" fill="#1e1e1e"  stroke="#1e1e1e" stroke-width="0.35">P4</text>
<polygon points="499.1,293.15 501.45,295.5 499.1,297.85 496.75,295.5" fill="#0c6b4c"/>
<text x="503.9" y="298.4" font-size="7.6" font-weight="normal" text-anchor="start" fill="#1e1e1e"  stroke="#1e1e1e" stroke-width="0.35">P6</text>
<rect x="0" y="0" width="520" height="1.4" fill="#1a1515"/>
<rect x="0" y="367.6" width="520" height="1.4" fill="#1a1515"/>
<rect x="0" y="0" width="1.1" height="369" fill="#1a1515"/>
<rect x="518.6" y="0" width="1.4" height="369" fill="#1a1515"/>
</svg></body></html>
